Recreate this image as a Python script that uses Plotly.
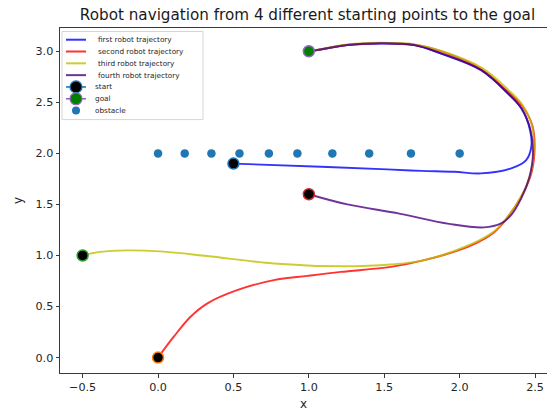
import plotly.graph_objects as go

# ---- trajectories (x, y) ----
first_x = [0.5, 1.08, 1.52, 1.745, 1.965, 2.14, 2.342, 2.441, 2.475, 2.468, 2.41, 2.32, 2.142, 1.876, 1.699, 1.477, 1.256, 1.057, 1.0]
first_y = [1.9, 1.869, 1.843, 1.829, 1.82, 1.804, 1.853, 1.934, 2.065, 2.22, 2.44, 2.586, 2.815, 2.978, 3.06, 3.076, 3.06, 3.012, 3.0]

second_x = [0.0, 0.103, 0.214, 0.325, 0.524, 0.768, 0.99, 1.211, 1.544, 1.765, 2.054, 2.231, 2.32, 2.408, 2.475, 2.497, 2.481, 2.415, 2.315, 2.142, 1.89, 1.70, 1.48, 1.26, 1.06, 1.0]
second_y = [0.0, 0.202, 0.398, 0.529, 0.66, 0.758, 0.80, 0.839, 0.888, 0.954, 1.084, 1.231, 1.378, 1.575, 1.804, 2.065, 2.277, 2.464, 2.611, 2.826, 2.993, 3.064, 3.08, 3.064, 3.014, 3.0]

third_x = [-0.5, -0.384, -0.207, 0.015, 0.325, 0.768, 1.211, 1.544, 1.765, 2.076, 2.231, 2.32, 2.408, 2.47, 2.492, 2.478, 2.418, 2.32, 2.15, 1.89, 1.70, 1.48, 1.26, 1.06, 1.0]
third_y = [1.0, 1.035, 1.05, 1.04, 0.995, 0.922, 0.895, 0.912, 0.954, 1.111, 1.24, 1.385, 1.58, 1.8, 2.06, 2.28, 2.472, 2.625, 2.835, 2.998, 3.068, 3.083, 3.066, 3.015, 3.0]

fourth_x = [1.0, 1.256, 1.6, 1.93, 2.16, 2.275, 2.341, 2.408, 2.463, 2.486, 2.468, 2.41, 2.32, 2.142, 1.876, 1.699, 1.477, 1.256, 1.057, 1.0]
fourth_y = [1.6, 1.50, 1.41, 1.31, 1.275, 1.314, 1.395, 1.559, 1.771, 2.0, 2.24, 2.44, 2.588, 2.817, 2.98, 3.062, 3.078, 3.062, 3.013, 3.0]

start_x = [0.5, 0.0, -0.5, 1.0]
start_y = [1.9, 0.0, 1.0, 1.6]
goal_x = [1.0]
goal_y = [3.0]
obstacle_x = [0.0, 0.177, 0.354, 0.54, 0.735, 0.924, 1.156, 1.40, 1.677, 2.0]
obstacle_y = [2.0, 2.0, 2.0, 2.0, 2.0, 2.0, 2.0, 2.0, 2.0, 2.0]

series_names = ["first robot trajectory", "second robot trajectory",
                "third robot trajectory", "fourth robot trajectory"]
line_colors = ["rgba(0,0,255,0.8)", "rgba(255,0,0,0.8)",
               "rgba(191,191,0,0.8)", "rgba(75,0,130,0.8)"]
cycle = ["#1f77b4", "#ff7f0e", "#2ca02c", "#d62728", "#9467bd"]

W, H = 547, 413
ML, MR, MT, MB = 60, 0, 28, 40.3
PW, PH = W - ML - MR, H - MT - MB
FONT = "DejaVu Sans"


def fx(px):
    return (px - ML) / PW


def fy(py):
    return (H - MB - py) / PH


fig = go.Figure()

paths = [(first_x, first_y), (second_x, second_y), (third_x, third_y), (fourth_x, fourth_y)]
for (xs, ys), name, col in zip(paths, series_names, line_colors):
    fig.add_trace(go.Scatter(x=xs, y=ys, mode="lines", name=name,
                             line=dict(color=col, width=1.9, shape="spline", smoothing=1.0),
                             showlegend=False))

fig.add_trace(go.Scatter(x=obstacle_x, y=obstacle_y, mode="markers", name="obstacle",
                         marker=dict(color=cycle[0], size=8.5, line=dict(width=0)),
                         showlegend=False))

fig.add_trace(go.Scatter(x=start_x, y=start_y, mode="markers", name="start",
                         marker=dict(color="black", size=11,
                                     line=dict(color=cycle[:4], width=1.5)),
                         showlegend=False))

fig.add_trace(go.Scatter(x=goal_x, y=goal_y, mode="markers", name="goal",
                         marker=dict(color="green", size=11,
                                     line=dict(color=cycle[4], width=1.5)),
                         showlegend=False))

# ---- legend box drawn in the upper-left corner ----
shapes = [dict(type="rect", xref="paper", yref="paper",
               x0=fx(62), x1=fx(203), y0=fy(119.5), y1=fy(31.5),
               line=dict(color="#d6d6d6", width=1), fillcolor="rgba(255,255,255,0.8)",
               layer="above")]
annotations = []
row0, step = 39.7, 11.8
legend_items = [(n, "line", c) for n, c in zip(series_names, line_colors)]
legend_items += [("start", "start", None), ("goal", "goal", None), ("obstacle", "dot", None)]

for i, (label, kind, col) in enumerate(legend_items):
    ry = row0 + step * i
    if kind == "line":
        shapes.append(dict(type="line", xref="paper", yref="paper",
                           x0=fx(66), x1=fx(86), y0=fy(ry), y1=fy(ry),
                           line=dict(color=col, width=2), layer="above"))
        tx = 95.5
    elif kind in ("start", "goal"):
        lc = cycle[0] if kind == "start" else cycle[4]
        fc = "black" if kind == "start" else "green"
        shapes.append(dict(type="line", xref="paper", yref="paper",
                           x0=fx(66), x1=fx(86), y0=fy(ry), y1=fy(ry),
                           line=dict(color=lc, width=1.6), layer="above"))
        shapes.append(dict(type="circle", xref="paper", yref="paper",
                           xsizemode="pixel", ysizemode="pixel",
                           xanchor=fx(76), yanchor=fy(ry),
                           x0=-6, x1=6, y0=-6, y1=6,
                           fillcolor=fc, line=dict(color=lc, width=1.2), layer="above"))
        tx = 92.5
    else:
        shapes.append(dict(type="circle", xref="paper", yref="paper",
                           xsizemode="pixel", ysizemode="pixel",
                           xanchor=fx(76), yanchor=fy(ry),
                           x0=-4, x1=4, y0=-4, y1=4,
                           fillcolor=cycle[0], line=dict(width=0), layer="above"))
        tx = 92.5
    annotations.append(dict(text=label, xref="paper", yref="paper",
                            x=fx(tx), y=fy(ry), xanchor="left", yanchor="middle",
                            showarrow=False, font=dict(family=FONT, size=7.3, color="#262626")))

axis_common = dict(showline=True, linecolor="#3a3a3a", linewidth=1,
                   ticks="outside", ticklen=3.5, tickwidth=1, tickcolor="#3a3a3a",
                   showgrid=False, zeroline=False, tickformat=".1f",
                   tickfont=dict(family=FONT, size=11.2, color="#262626"))

fig.update_layout(
    width=W, height=H,
    margin=dict(l=ML, r=MR, t=MT, b=MB, pad=0),
    plot_bgcolor="white", paper_bgcolor="white",
    font=dict(family=FONT, color="#262626"),
    title=dict(text="Robot navigation from 4 different starting points to the goal",
               x=fx(307.5), xref="paper", xanchor="center",
               y=1 - 15 / H, yref="container", yanchor="middle",
               font=dict(family=FONT, size=15.2, color="#1a1a1a")),
    xaxis=dict(range=[-0.650, 2.579], tick0=-0.5, dtick=0.5, mirror=True,
               title=dict(text="x", standoff=6, font=dict(family=FONT, size=12)),
               **axis_common),
    yaxis=dict(range=[-0.151, 3.228], tick0=0, dtick=0.5, mirror=False,
               title=dict(text="y", standoff=10, font=dict(family=FONT, size=12)),
               **axis_common),
    shapes=shapes,
    annotations=annotations,
    showlegend=False,
)

fig.write_html("out.html")
